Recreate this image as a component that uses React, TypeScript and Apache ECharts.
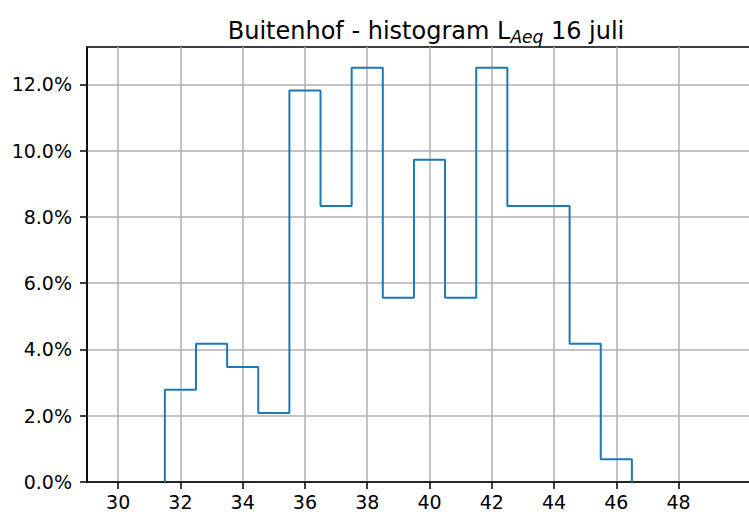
import React, { useEffect, useRef } from "react";
import * as echarts from "echarts";

const binStarts = [31.5, 32.5, 33.5, 34.5, 35.5, 36.5, 37.5, 38.5, 39.5, 40.5, 41.5, 42.5, 43.5, 44.5, 45.5];
const binEnds = [32.5, 33.5, 34.5, 35.5, 36.5, 37.5, 38.5, 39.5, 40.5, 41.5, 42.5, 43.5, 44.5, 45.5, 46.5];
const percentages = [2.78, 4.17, 3.47, 2.08, 11.81, 8.33, 12.5, 5.56, 9.72, 5.56, 12.5, 8.33, 8.33, 4.17, 0.69];
const xTicks = [30, 32, 34, 36, 38, 40, 42, 44, 46, 48];
const yTicks = [0, 2, 4, 6, 8, 10, 12];

const FONT = "DejaVu Sans";

export default function App() {
  const ref = useRef<HTMLDivElement>(null);
  useEffect(() => {
    if (!ref.current) return;
    const chart = echarts.init(ref.current, null, { renderer: "svg" });
    const stepData: number[][] = [];
    binStarts.forEach((s, i) => {
      if (i === 0) stepData.push([s, 0]);
      stepData.push([s, percentages[i]]);
      stepData.push([binEnds[i], percentages[i]]);
    });
    stepData.push([binEnds[binEnds.length - 1], 0]);

    chart.setOption({
      animation: false,
      backgroundColor: "#ffffff",
      textStyle: { fontFamily: FONT },
      title: {
        text: "Buitenhof - histogram L{sub|Aeq} 16 juli",
        left: 421,
        textAlign: "center",
        top: 11,
        textStyle: {
          fontFamily: FONT,
          fontSize: 24,
          fontWeight: "normal",
          color: "#000",
          rich: {
            sub: {
              fontFamily: FONT,
              fontSize: 17,
              fontStyle: "italic",
              color: "#000",
              padding: [12, 0, 0, 0],
            },
          },
        },
      },
      grid: {
        left: 87,
        top: 47,
        right: 781 - 772,
        bottom: 32,
        show: true,
        borderColor: "#000",
        borderWidth: 1.5,
        backgroundColor: "transparent",
      },
      xAxis: {
        type: "value",
        min: 29,
        max: 51,
        axisLine: { show: true, onZero: false, lineStyle: { color: "#000", width: 1.5 } },
        axisTick: { show: true, length: 7, customValues: xTicks, lineStyle: { color: "#000", width: 1.5 } },
        axisLabel: {
          customValues: xTicks,
          fontFamily: FONT,
          fontSize: 19,
          color: "#000",
          margin: 10,
          formatter: (v: number) => String(v),
        },
        splitLine: { show: true, lineStyle: { color: "#b0b0b0", width: 1.5 } },
      },
      yAxis: {
        type: "value",
        min: 0,
        max: 13.125,
        axisLine: { show: true, lineStyle: { color: "#000", width: 1.5 } },
        axisTick: { show: true, length: 7, customValues: yTicks, lineStyle: { color: "#000", width: 1.5 } },
        axisLabel: {
          customValues: yTicks,
          fontFamily: FONT,
          fontSize: 19,
          color: "#000",
          margin: 15,
          formatter: (v: number) => v.toFixed(1) + "%",
        },
        splitLine: { show: true, lineStyle: { color: "#b0b0b0", width: 1.5 } },
      },
      series: [
        {
          type: "line",
          data: stepData,
          symbol: "none",
          lineStyle: { color: "#1f77b4", width: 2 },
          z: 5,
        },
      ],
    });
    return () => chart.dispose();
  }, []);

  return (
    <div style={{ position: "fixed", left: 0, top: 0, width: 749, height: 514, overflow: "hidden", background: "#fff" }}>
      <div ref={ref} style={{ width: 781, height: 514 }} />
    </div>
  );
}
